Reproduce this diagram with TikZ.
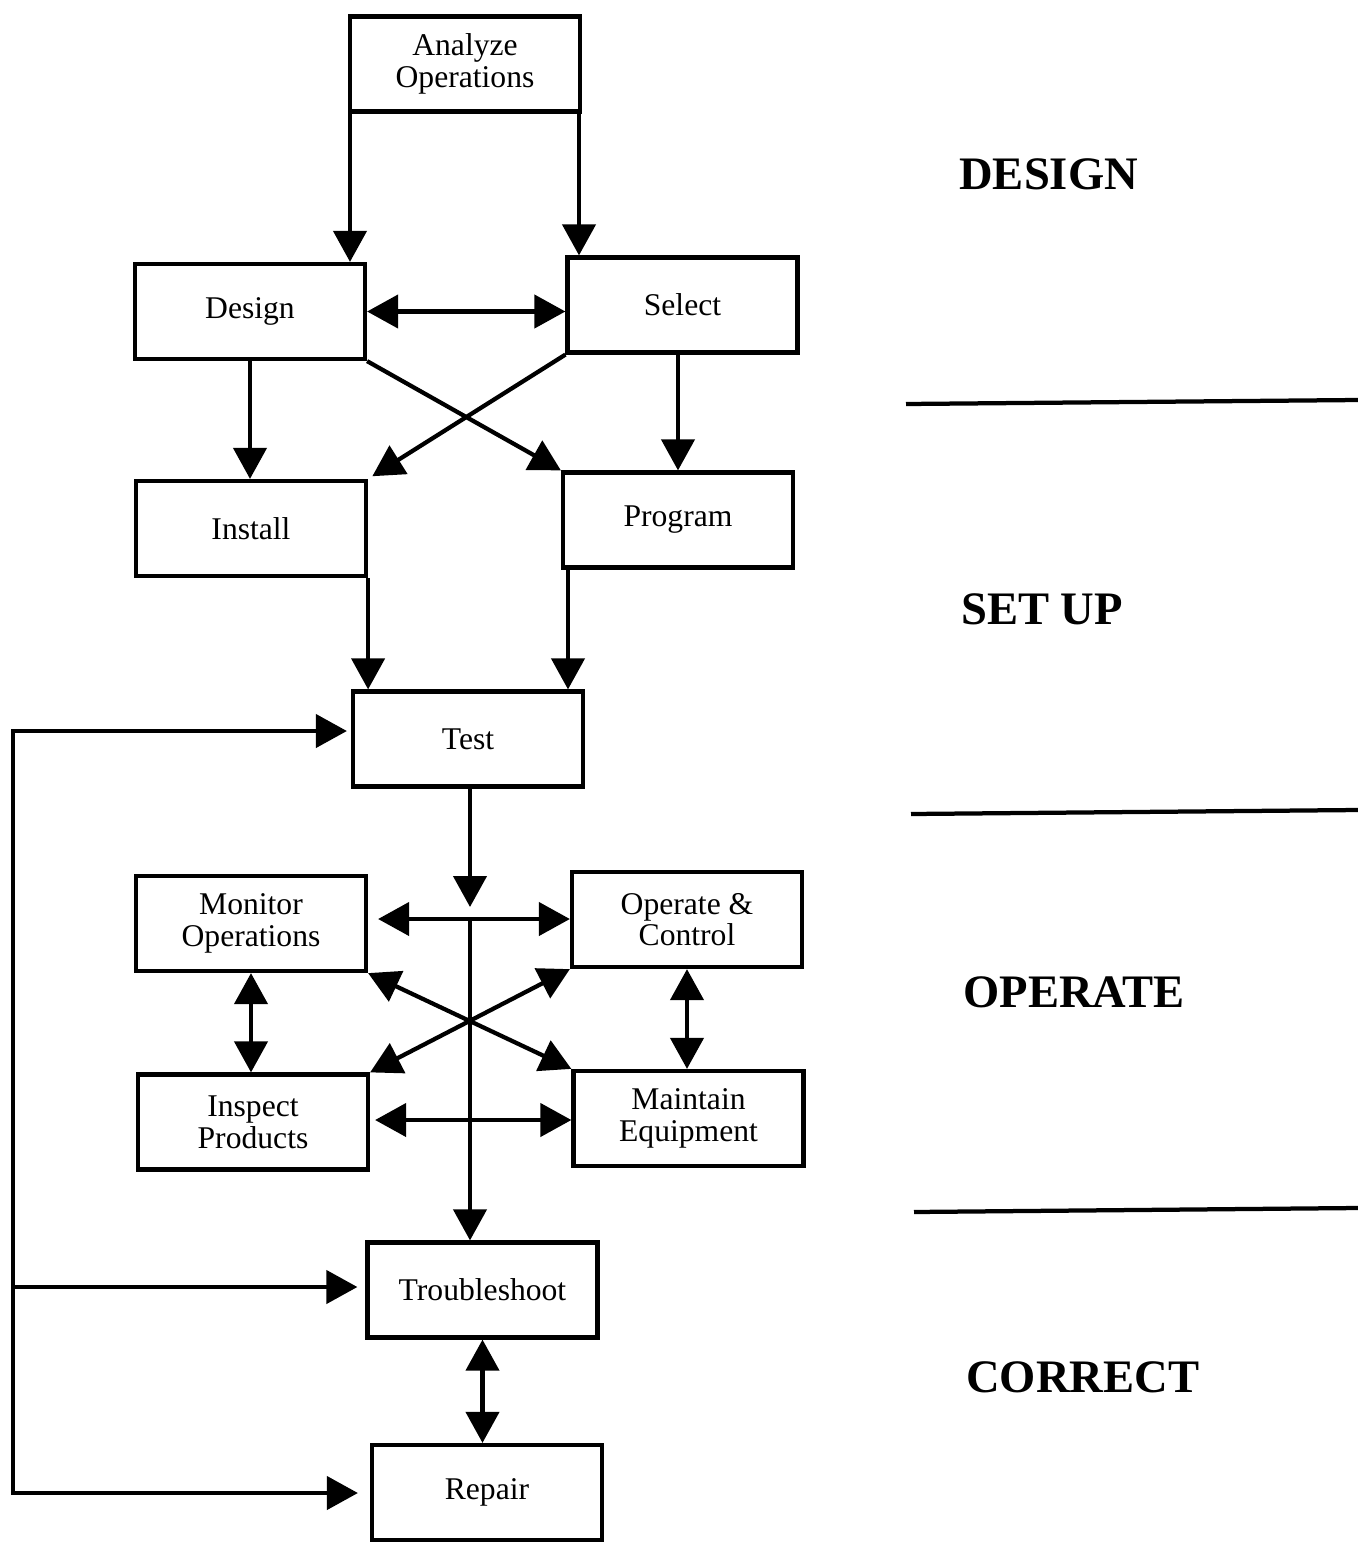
\documentclass[tikz,border=0pt]{standalone}
\usepackage{fontspec}
\setmainfont{Liberation Serif}
\usetikzlibrary{arrows.meta}
\begin{document}
\begin{tikzpicture}[x=0.02cm,y=-0.02cm,
  box/.style={draw,line width=0.085cm,minimum width=4.6cm,minimum height=1.9cm,inner sep=0pt,align=center,font=\fontsize{18}{18}\selectfont},
  conn/.style={line width=0.085cm},
  arr/.style={conn,-{Triangle[length=0.62cm,width=0.66cm]}},
  darr/.style={conn,{Triangle[length=0.62cm,width=0.66cm]}-{Triangle[length=0.62cm,width=0.66cm]}},
  phase/.style={anchor=base west,inner sep=0pt,font=\fontsize{26.5}{26.5}\selectfont\bfseries},
  sep/.style={line width=0.085cm}]
\useasboundingbox (0,0) rectangle (1358,1546);
% boxes
\node[box] (ana) at (465,64) {Analyze\\Operations};
\node[box] (des) at (250,311.5) {Design};
\node[box] (sel) at (682.5,305) {Select};
\node[box] (ins) at (251,528.5) {Install};
\node[box] (prg) at (678,520) {Program};
\node[box] (tst) at (468,739) {Test};
\node[box] (mon) at (251,923.5) {Monitor\\Operations};
\node[box] (opc) at (687,919.5) {Operate \&\\Control};
\node[box] (isp) at (253,1122) {Inspect\\Products};
\node[box] (mnt) at (688.5,1118.5) {Maintain\\Equipment};
\node[box] (trb) at (482.5,1290) {Troubleshoot};
\node[box] (rep) at (487,1492.5) {Repair};
% phase labels
\node[phase] (lde) at (959,189) {DESIGN};
\node[phase] (lsu) at (961,624) {SET UP};
\node[phase] (lop) at (963,1007) {OPERATE};
\node[phase] (lco) at (966,1392) {CORRECT};
% separators
\draw[sep] (906,404) -- (1358,400);
\draw[sep] (911,814) -- (1358,810);
\draw[sep] (914,1212) -- (1358,1208);
% design stage
\coordinate (a1) at (350,113);
\coordinate (a2) at (579,113);
\draw[arr] (a1) -- (a1 |- des.north);
\draw[arr] (a2) -- (a2 |- sel.north);
\draw[darr] (des.east) -- (des.east -| sel.west);
\draw[arr] (des.south) -- (des.south |- ins.north);
\draw[arr] (prg.north |- sel.south) -- (prg.north);
\draw[arr] (des.south east) -- (prg.north west);
\draw[arr,shorten >=0.1cm] (sel.south west) -- (ins.north east);
% set up to test
\draw[arr] (ins.south east) -- (ins.south east |- tst.north);
\coordinate (p1) at (568,570);
\draw[arr] (p1) -- (p1 |- tst.north);
% operate
\coordinate (hub) at (470,919);
\draw[arr,shorten >=0.24cm] (tst.south -| hub) -- (hub);
\draw[darr,shorten <=0.2cm] (mon.east |- hub) -- (opc.west |- hub);
\draw[arr] (hub) -- (hub |- trb.north);
\draw[darr,shorten <=0.1cm] (isp.east |- 0,1120) -- (mnt.west |- 0,1120);
\draw[darr] (mon.south east) -- (mnt.north west);
\draw[darr] (opc.south west) -- (isp.north east);
\draw[darr] (mon.south) -- (mon.south |- isp.north);
\draw[darr] (opc.south) -- (opc.south |- mnt.north);
% correct
\draw[darr] (trb.south) -- (trb.south |- rep.north);
% feedback
\coordinate (fb1) at (13,731);
\coordinate (fb2) at (13,1493);
\coordinate (fb3) at (13,1287);
\draw[arr,shorten >=0.08cm] (fb2) -- (fb1) -- (fb1 -| tst.west);
\draw[arr,shorten >=0.24cm] (fb1) -- (fb2) -- (fb2 -| rep.west);
\draw[arr,shorten >=0.16cm] (fb3) -- (fb3 -| trb.west);
\end{tikzpicture}
\end{document}
